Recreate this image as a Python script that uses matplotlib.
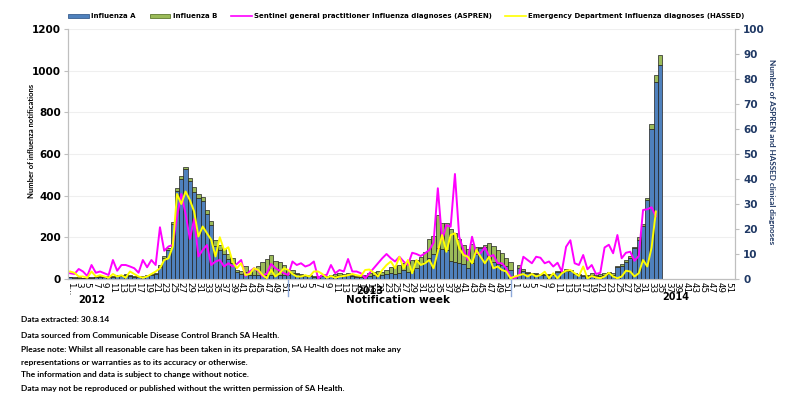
import numpy as np
import matplotlib
matplotlib.use("Agg")
import matplotlib.pyplot as plt
from matplotlib.patches import Patch
from matplotlib.lines import Line2D

# weekly influenza notifications (stacked bars), weeks 1-52 per year
flu_a_2012 = [8, 6, 6, 5, 7, 6, 8, 10, 8, 10, 11, 14, 16, 18, 14, 11, 9, 10, 16, 20,
              26, 57, 100, 140, 265, 423, 480, 528, 470, 420, 388, 375, 310, 258, 160, 140,
              120, 95, 75, 35, 25, 35, 20, 20, 20, 20, 20, 20, 20, 20, 20, 20]
flu_b_2012 = [2, 2, 2, 2, 2, 2, 2, 2, 2, 3, 4, 4, 4, 4, 4, 4, 3, 4, 4, 4,
              4, 8, 10, 10, 10, 12, 15, 12, 15, 20, 22, 20, 20, 22, 25, 25,
              25, 25, 25, 10, 15, 25, 20, 30, 40, 60, 75, 95, 65, 60, 45, 25]
flu_a_2013 = [30, 22, 18, 14, 14, 11, 11, 12, 11, 14, 15, 18, 16, 18, 13, 10, 10, 12, 16, 20,
              22, 18, 24, 30, 25, 30, 45, 35, 40, 55, 70, 80, 100, 120, 150, 145,
              140, 85, 80, 75, 70, 55, 75, 120, 150, 155, 100, 80, 70, 65, 60, 45]
flu_b_2013 = [12, 8, 7, 6, 6, 5, 5, 6, 5, 6, 7, 9, 8, 9, 7, 6, 6, 8, 11, 15,
              18, 17, 19, 28, 35, 37, 30, 45, 51, 35, 35, 50, 90, 86, 157, 125,
              130, 153, 139, 115, 93, 87, 93, 32, 2, 8, 71, 78, 69, 58, 39, 38]
flu_a_2014 = [9, 55, 40, 30, 25, 25, 20, 20, 18, 19, 32, 33, 38, 37, 25, 20, 14, 15, 19, 12,
              15, 20, 24, 20, 56, 63, 83, 102, 147, 188, 254, 378, 722, 944, 1027]
flu_b_2014 = [2, 10, 6, 5, 5, 5, 4, 4, 6, 5, 8, 7, 8, 6, 5, 5, 5, 4, 8, 7,
              7, 7, 8, 7, 6, 9, 8, 8, 8, 12, 8, 11, 22, 35, 48]

# clinical diagnoses (right axis)
aspren_2012 = [2.3, 2, 4, 3, 1.2, 5.6, 2.5, 3, 2.3, 1.6, 7.6, 3.3, 5.6, 5.6, 5, 4.3, 2.5, 7.6, 4.7, 7.6,
               5.6, 20.7, 11.3, 13, 13.6, 25, 34, 26, 16, 24, 9, 11.6, 13.6, 5.6, 7, 7.6,
               5, 6.3, 5, 6, 7.6, 1.2, 3, 4.3, 3.3, 1, 2.3, 6, 4.3, 3.3, 2.3, 1.6]
aspren_2013 = [7, 5.6, 6.3, 5, 5.6, 7, 0.3, 1.6, 1.6, 5.6, 2.3, 3.6, 3, 8, 3, 3, 2.3, 0.3, 2.3, 4.3,
               6.3, 8.3, 10, 8.3, 7, 8.9, 7, 5.6, 10.5, 10, 9.2, 10.3, 11.6, 14.5, 36.3, 15.6,
               21.6, 20.9, 42, 16.9, 11.6, 7.6, 16.9, 10.3, 10.3, 12.7, 8.9, 9.6, 6.3, 6.3, 4.3, 1]
aspren_2014 = [0.3, 1.6, 8.9, 7.6, 6.3, 8.9, 8.5, 6.3, 7, 5, 6.5, 3, 12.9, 15.5, 6.3, 5.6, 9.6, 3.9, 5.6, 2,
               2.5, 12.6, 13.7, 10.3, 17.6, 8.3, 10.5, 10.9, 7.3, 9.2, 27.6, 27.9, 28.7, 25]
hassed_2012 = [3, 2.5, 1, 1, 0.5, 3, 1, 1.5, 1, 0.5, 2, 1, 1.5, 0.5, 3, 2, 1, 0.5, 1, 2,
               3, 4.3, 7.6, 8.3, 13, 34, 30, 35, 31.6, 27, 17, 21, 18.3, 15.7, 9, 16.7,
               11.6, 12.7, 6.9, 4.3, 6.3, 1.6, 2, 4.3, 3.6, 1.6, 0.3, 3.6, 1, 2.3, 4.3, 3.6]
hassed_2013 = [2, 1, 1, 1.5, 1, 3, 3, 2, 0.5, 1.2, 0.5, 1, 1.2, 1.5, 2, 1.5, 1.2, 3.6, 3.8, 2.5,
               1, 3.6, 5.6, 7, 4.3, 8.9, 4.3, 7.6, 2.3, 7.6, 5.6, 6.3, 7.6, 4.3, 10.9, 17.6,
               10.9, 17.6, 18.3, 12.3, 9.6, 8.9, 6.3, 11.6, 8.9, 6.3, 8.9, 4.3, 5, 3.6, 3, 0.3]
hassed_2014 = [1, 1.5, 2, 1, 2, 1, 1.6, 2.9, 0.3, 2.3, 0.3, 2.3, 3.3, 3.6, 2.3, 1.2, 5, 0.3, 1.2, 0.6,
               0.3, 1, 2.5, 1, 0.3, 1, 3.3, 3, 1, 2.3, 7.6, 5, 12.6, 27]

years = ["2012", "2013", "2014"]
weeks_per_year = 52

footer = [
    "Data extracted: 30.8.14",
    "Data sourced from Communicable Disease Control Branch SA Health.",
    "Please note: Whilst all reasonable care has been taken in its preparation, SA Health does not make any",
    "representations or warranties as to its accuracy or otherwise.",
    "The information and data is subject to change without notice.",
    "Data may not be reproduced or published without the written permission of SA Health.",
]


def pad(vals):
    out = np.full(weeks_per_year, np.nan)
    out[:len(vals)] = vals
    return out


flu_a = np.concatenate([pad(flu_a_2012), pad(flu_a_2013), pad(flu_a_2014)])
flu_b = np.concatenate([pad(flu_b_2012), pad(flu_b_2013), pad(flu_b_2014)])
aspren = np.concatenate([pad(aspren_2012), pad(aspren_2013), pad(aspren_2014)])
hassed = np.concatenate([pad(hassed_2012), pad(hassed_2013), pad(hassed_2014)])
x = np.arange(len(flu_a))

navy = "#1F3864"
c_a = "#4F81BD"
c_b = "#9BBB59"
grey = "#BFBFBF"

fig = plt.figure(figsize=(8.05, 4.03), dpi=100)
ax = fig.add_axes([0.0845, 0.3077, 0.8285, 0.6203])
ax2 = ax.twinx()
ax.set_zorder(ax2.get_zorder() + 1)
ax.patch.set_visible(False)

ax.bar(x, np.nan_to_num(flu_a), width=1.0, color=c_a, edgecolor="#222222", linewidth=0.5, zorder=2)
ax.bar(x, np.nan_to_num(flu_b), bottom=np.nan_to_num(flu_a), width=1.0, color=c_b,
       edgecolor="#222222", linewidth=0.5, zorder=2)
# lines belong to the right axis (0-100); plotted on the bar axis scaled 12x so they sit on top
ax.plot(x, aspren * 12, color="#FF00FF", lw=1.4, zorder=3)
ax.plot(x, hassed * 12, color="#FFFF00", lw=1.4, zorder=4)

ax.set_xlim(-0.5, len(x) - 0.5)
ax.set_ylim(0, 1200)
ax2.set_ylim(0, 100)
ax.set_yticks(np.arange(0, 1201, 200))
ax2.set_yticks(np.arange(0, 101, 10))

ax.grid(axis="y", color="#EFEFEF", lw=0.8, zorder=0)
ax.set_axisbelow(True)

# x ticks: odd weeks in every year
ticks, labels = [], []
for k in range(len(years)):
    for w in range(1, weeks_per_year + 1, 2):
        ticks.append(k * weeks_per_year + w - 1)
        labels.append("1..." if (k == 0 and w == 1) else str(w))
ax.set_xticks(ticks)
ax.set_xticklabels(labels, rotation=-90, fontsize=6.3, family="DejaVu Sans")
ax.tick_params(axis="x", length=0, pad=2)

ax.tick_params(axis="y", labelsize=7.5, length=3, color=grey, pad=2)
for t in ax.get_yticklabels():
    t.set_fontweight("bold")
ax2.tick_params(axis="y", labelsize=7.5, length=3, color=grey, labelcolor=navy, pad=3)
for t in ax2.get_yticklabels():
    t.set_fontweight("bold")

for a in (ax, ax2):
    a.spines["top"].set_visible(False)
    for s in ("left", "right", "bottom"):
        a.spines[s].set_color(grey)
        a.spines[s].set_linewidth(0.8)

# year separators
for k in (1, 2):
    ax.plot([k * weeks_per_year - 1] * 2, [0, -0.07], transform=ax.get_xaxis_transform(),
            color="#8EA9DB", lw=1.0, clip_on=False)

fig.text(32 / 805, 1 - 141 / 403, "Number of influenza notifications", family="Lato",
         fontweight="bold", fontsize=5.5, rotation=90, ha="center", va="center")
fig.text(771 / 805, 1 - 152 / 403, "Number of ASPREN and HASSED clinical diagnoses",
         family="Lato", fontweight="bold", fontsize=5.9, color=navy, rotation=-90,
         ha="center", va="center")

fig.text(92 / 805, 1 - 300 / 403, years[0], fontsize=7, fontweight="bold", ha="center", va="center")
fig.text(370 / 805, 1 - 291 / 403, years[1], fontsize=7, fontweight="bold", ha="center", va="center")
fig.text(676 / 805, 1 - 297 / 403, years[2], fontsize=7, fontweight="bold", ha="center", va="center")
fig.text(398 / 805, 1 - 300 / 403, "Notification week", fontsize=7.5, fontweight="bold",
         ha="center", va="center")

handles = [
    Patch(facecolor=c_a, edgecolor="#3A5F8F", lw=0.6),
    Patch(facecolor=c_b, edgecolor="#5F7A2F", lw=0.6),
    Line2D([], [], color="#FF00FF", lw=1.2),
    Line2D([], [], color="#FFFF00", lw=1.2),
]
names = ["Influenza A", "Influenza B",
         "Sentinel general practitioner Influenza diagnoses (ASPREN)",
         "Emergency Department Influenza diagnoses (HASSED)"]
fig.legend(handles, names, loc="center", bbox_to_anchor=(0.505, 0.96), ncol=4, frameon=False,
           prop={"size": 5.0, "weight": "bold"}, handlelength=3.0, handleheight=0.5,
           columnspacing=2.0, handletextpad=0.3)

ys = [320, 336, 349.5, 362, 375, 388]
for line, yy in zip(footer, ys):
    fig.text(21 / 805, 1 - yy / 403, line, family="Lato", fontweight="bold", fontsize=6.0,
             va="center", ha="left")

fig.savefig("out.png", dpi=100)
